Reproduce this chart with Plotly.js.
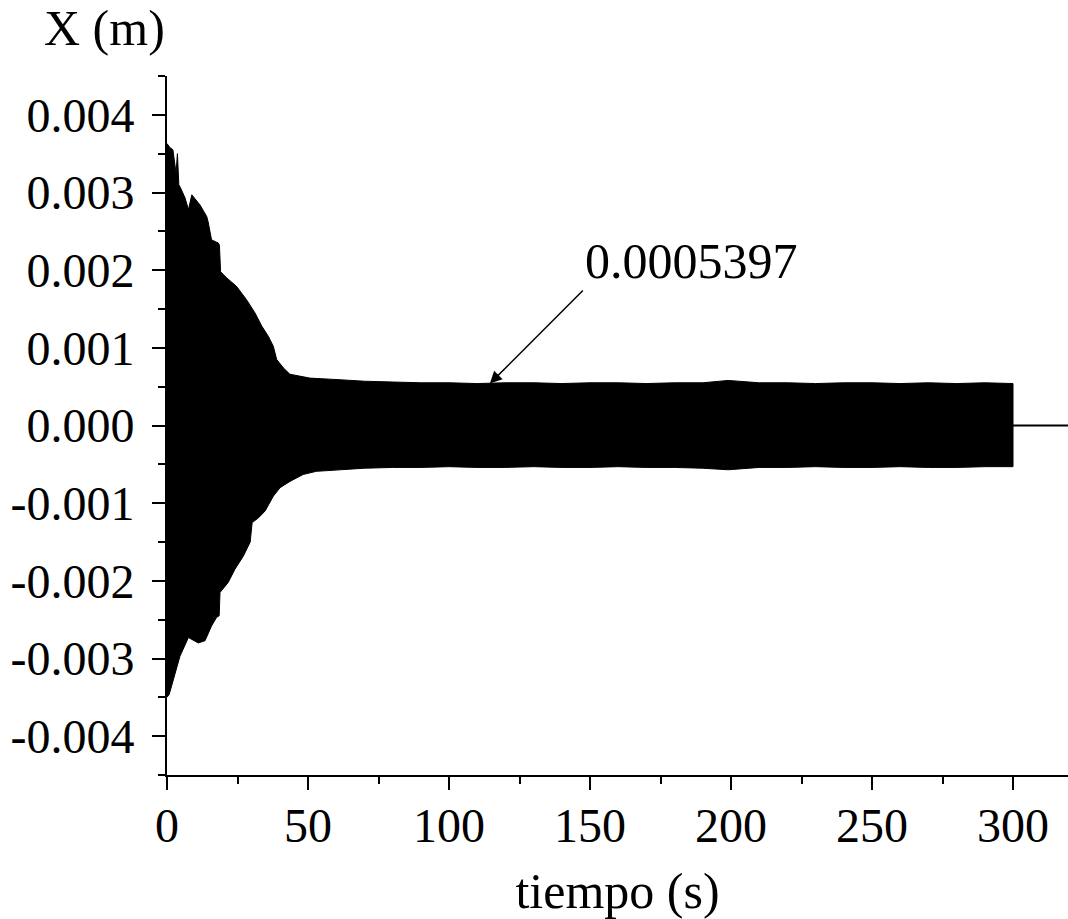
<!DOCTYPE html>
<html>
<head>
<meta charset="utf-8">
<script src="https://cdn.plot.ly/plotly-3.0.1.min.js"></script>
<style>html,body{margin:0;padding:0;background:#fff;}#chart{width:1068px;height:919px;}</style>
</head>
<body>
<div id="chart"></div>
<script>
// Upper envelope of the oscillation X(t)
const upperTime = [0, 1, 2.1, 3.2, 3.7, 4.2, 4.8, 6.4, 7.6, 8.8, 11.7, 14.1, 14.6, 15.8, 18.2, 18.6, 19.0, 21.2, 24.7, 28.2, 31.2, 33.6, 35.9, 37.7, 38.9, 41.3, 43.6, 47.2, 50.7, 61, 70, 80, 90, 100, 110, 120, 130, 140, 150, 160, 170, 180, 190, 199, 210, 220, 230, 240, 250, 260, 270, 280, 290, 300];
const upperValue = [0.00363, 0.00358, 0.00355, 0.00325, 0.0035, 0.0031, 0.00306, 0.00293, 0.00278, 0.00297, 0.00284, 0.00269, 0.00262, 0.00239, 0.00235, 0.00232, 0.00198, 0.0019, 0.00179, 0.00162, 0.00145, 0.00128, 0.00115, 0.00102, 0.00085, 0.00074, 0.00066, 0.00063, 0.00061, 0.00059, 0.00057, 0.00056, 0.00055, 0.00055, 0.00054, 0.00055, 0.00055, 0.00054, 0.00055, 0.00055, 0.00054, 0.00055, 0.00055, 0.00058, 0.00055, 0.00055, 0.00054, 0.00055, 0.00055, 0.00054, 0.00055, 0.00054, 0.00055, 0.00054];
// Lower envelope
const lowerTime = [0, 0.8, 2.2, 4.6, 7.6, 11.1, 13.5, 15.8, 17.6, 18.5, 18.8, 21.7, 24.1, 27.1, 29.5, 30.2, 32.4, 34.8, 37.7, 40.1, 43.6, 48.3, 53, 61, 70, 80, 90, 100, 110, 120, 130, 140, 150, 160, 170, 180, 190, 199, 210, 220, 230, 240, 250, 260, 270, 280, 290, 300];
const lowerValue = [-0.0035, -0.00346, -0.0033, -0.00297, -0.00273, -0.0028, -0.00277, -0.00258, -0.00247, -0.00245, -0.00215, -0.00202, -0.00185, -0.00168, -0.0015, -0.00125, -0.00119, -0.0011, -0.00091, -0.0008, -0.00072, -0.00063, -0.00059, -0.00057, -0.00055, -0.00054, -0.00054, -0.00053, -0.00054, -0.00054, -0.00053, -0.00054, -0.00054, -0.00053, -0.00054, -0.00054, -0.00055, -0.00057, -0.00054, -0.00054, -0.00053, -0.00054, -0.00054, -0.00053, -0.00054, -0.00054, -0.00053, -0.00053];
// Signal after the end of the record
const tailTime = [300, 320];
const tailValue = [0, 0];

const xTickVals = [0, 50, 100, 150, 200, 250, 300];
const xTickText = ["0", "50", "100", "150", "200", "250", "300"];
const yTickVals = [0.004, 0.003, 0.002, 0.001, 0, -0.001, -0.002, -0.003, -0.004];
const yTickText = ["0.004", "0.003", "0.002", "0.001", "0.000", "-0.001", "-0.002", "-0.003", "-0.004"];

const annotPoint = {t: 114.5, x: 0.00054, label: "0.0005397"};

const FONT = "Liberation Serif, Times New Roman, serif";
const FS = 48;
const FT = 50;

const polyX = upperTime.concat(lowerTime.slice().reverse());
const polyY = upperValue.concat(lowerValue.slice().reverse());

const traces = [
  {x: polyX, y: polyY, type: 'scatter', mode: 'lines', fill: 'toself',
   fillcolor: '#000', line: {color: '#000', width: 1}, hoverinfo: 'skip', showlegend: false},
  {x: tailTime, y: tailValue, type: 'scatter', mode: 'lines', cliponaxis: false,
   line: {color: '#000', width: 2, simplify: false}, showlegend: false}
];

const layout = {
  width: 1068, height: 919,
  margin: {l: 167, r: 0, t: 76, b: 144, pad: 0},
  paper_bgcolor: '#fff', plot_bgcolor: '#fff',
  showlegend: false,
  font: {family: FONT, size: FS, color: '#000'},
  xaxis: {
    range: [0, 319.5], showgrid: false, zeroline: false,
    showline: true, linecolor: '#000', linewidth: 2,
    ticks: 'outside', ticklen: 13, tickwidth: 2, tickcolor: '#000',
    tickmode: 'array', tickvals: xTickVals, ticktext: xTickText,
    ticklabelstandoff: -6,
    tickfont: {family: FONT, size: FS, color: '#000'},
    minor: {tickmode: 'linear', tick0: 0, dtick: 25, ticks: 'outside', ticklen: 7, tickwidth: 2, tickcolor: '#000', showgrid: false},
    title: {text: 'tiempo (s)', font: {family: FONT, size: FT, color: '#000'}, standoff: 40}
  },
  yaxis: {
    range: [-0.0045, 0.0045], showgrid: false, zeroline: false,
    showline: true, linecolor: '#000', linewidth: 2,
    ticks: 'outside', ticklen: 13, tickwidth: 2, tickcolor: '#000',
    tickmode: 'array', tickvals: yTickVals, ticktext: yTickText,
    ticklabelstandoff: 8,
    tickfont: {family: FONT, size: FS, color: '#000'},
    minor: {tickmode: 'linear', tick0: 0, dtick: 0.0005, ticks: 'outside', ticklen: 7, tickwidth: 2, tickcolor: '#000', showgrid: false}
  },
  annotations: [
    {xref: 'paper', yref: 'paper', x: -0.0694, y: 1.0, xanchor: 'center', yanchor: 'bottom',
     yshift: 18, text: 'X (m)', showarrow: false, font: {family: FONT, size: FT, color: '#000'}},
    {x: annotPoint.t, y: annotPoint.x, xref: 'x', yref: 'y', text: annotPoint.label,
     showarrow: true, axref: 'pixel', ayref: 'pixel', ax: 93, ay: -93,
     xanchor: 'left', yanchor: 'bottom',
     arrowhead: 2, arrowsize: 1.6, arrowwidth: 1.5, arrowcolor: '#000',
     font: {family: FONT, size: FT, color: '#000'}}
  ]
};

Plotly.newPlot('chart', traces, layout, {displayModeBar: false, staticPlot: true});
</script>
</body>
</html>
